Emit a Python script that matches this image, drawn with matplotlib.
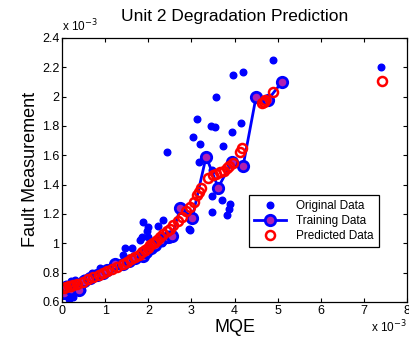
import matplotlib
matplotlib.use('Agg')
import matplotlib.pyplot as plt

plt.rcParams['font.family'] = ['Liberation Sans', 'DejaVu Sans']

# values in units of 1e-3
orig_x = [7.4, 4.9, 4.2, 3.97, 3.57, 3.13, 3.46, 3.03, 3.2, 3.55, 3.74, 3.95, 4.15,
          2.43, 3.18, 3.48, 3.48, 3.7, 3.9, 3.86, 3.82, 3.48, 2.95,
          0.07, 0.15, 0.26, 0.1, 0.2, 0.3, 0.46, 0.5, 0.7, 0.88, 1.04, 1.2, 1.35,
          1.41, 1.46, 1.62, 1.55, 1.81, 1.81, 1.86, 1.88, 1.97, 2.0, 2.0, 2.04,
          2.23, 2.32, 2.34, 2.46, 2.5, 2.97]
orig_y = [2.2, 2.25, 2.17, 2.15, 2.0, 1.85, 1.80, 1.725, 1.68, 1.79, 1.66, 1.76, 1.82,
          1.62, 1.555, 1.50, 1.32, 1.295, 1.27, 1.235, 1.19, 1.21, 1.10,
          0.65, 0.62, 0.635, 0.72, 0.74, 0.75, 0.68, 0.76, 0.80, 0.83, 0.83, 0.85, 0.86,
          0.92, 0.97, 0.97, 0.90, 0.92, 1.02, 1.04, 1.145, 1.08, 1.11, 1.04, 1.00,
          1.12, 1.0, 1.16, 1.06, 1.03, 1.09]

train_x = [0.05, 0.1, 0.2, 0.3, 0.4, 0.5, 0.65, 0.8, 0.95, 1.05, 1.23, 1.4, 1.55,
           1.7, 1.88, 1.95, 2.05, 2.15, 2.3, 2.45, 2.55, 2.74, 3.02, 3.34, 3.62,
           3.94, 4.2, 4.5, 4.78, 5.1]
train_y = [0.66, 0.70, 0.69, 0.72, 0.68, 0.74, 0.76, 0.78, 0.80, 0.82, 0.855, 0.86, 0.88,
           0.90, 0.91, 0.94, 0.97, 0.99, 1.02, 1.04, 1.05, 1.24, 1.175, 1.59, 1.38,
           1.555, 1.53, 2.0, 1.98, 2.1]

pred_x = [0.05, 0.1, 0.15, 0.2, 0.26, 0.35, 0.49, 0.6, 0.72, 0.85, 0.95, 1.05, 1.15,
          1.28, 1.4, 1.5, 1.6, 1.7, 1.78, 1.85, 1.92, 1.98, 2.04, 2.1, 2.15, 2.2,
          2.28, 2.35, 2.43, 2.5, 2.58, 2.68, 2.78, 2.88, 2.97, 3.05, 3.13, 3.18,
          3.22, 3.39, 3.5, 3.58, 3.67, 3.75, 3.82, 3.88, 3.96, 4.13, 4.18, 4.64,
          4.68, 4.71, 4.9, 7.42]
pred_y = [0.695, 0.70, 0.705, 0.71, 0.716, 0.725, 0.737, 0.755, 0.77, 0.785, 0.80, 0.81,
          0.825, 0.84, 0.86, 0.875, 0.89, 0.905, 0.92, 0.94, 0.955, 0.97, 0.99, 1.0,
          1.01, 1.02, 1.045, 1.06, 1.08, 1.10, 1.125, 1.15, 1.18, 1.22, 1.25, 1.28,
          1.33, 1.35, 1.38, 1.445, 1.465, 1.47, 1.485, 1.495, 1.51, 1.525, 1.545,
          1.62, 1.65, 1.955, 1.965, 1.98, 2.03, 2.105]

fig = plt.figure(figsize=(4.09, 3.45), dpi=100)
ax = fig.add_axes([0.152, 0.125, 0.843, 0.765])

ax.plot(orig_x, orig_y, '.', color='blue', markersize=9.5, label='Original Data')
ax.plot(train_x, train_y, '-o', color='blue', linewidth=2, markersize=7.5,
        markerfacecolor='#B020B0', markeredgecolor='blue', markeredgewidth=2,
        label='Training Data')
ax.plot(pred_x, pred_y, 'o', color='red', markerfacecolor='none', markersize=6.5,
        markeredgewidth=1.8, label='Predicted Data')

ax.set_xlim(0, 8)
ax.set_ylim(0.6, 2.4)
ax.set_xticks(range(0, 9))
ax.set_yticks([0.6, 0.8, 1.0, 1.2, 1.4, 1.6, 1.8, 2.0, 2.2, 2.4])
ax.set_yticklabels(['0.6', '0.8', '1', '1.2', '1.4', '1.6', '1.8', '2', '2.2', '2.4'])
ax.tick_params(direction='in', top=True, right=True, labelsize=9, length=3, pad=2)
for s in ax.spines.values():
    s.set_linewidth(0.9)

ax.set_title('Unit 2 Degradation Prediction', fontsize=12.5, pad=12)
ax.set_xlabel('MQE', fontsize=13, labelpad=2)
ax.set_ylabel('Fault Measurement', fontsize=13, labelpad=2)

ax.text(0.0, 1.012, r'x 10$^{-3}$', transform=ax.transAxes, fontsize=8.5,
        ha='left', va='bottom')
ax.text(0.998, -0.065, r'x 10$^{-3}$', transform=ax.transAxes, fontsize=8.5,
        ha='right', va='top')

leg = ax.legend(loc='lower left', bbox_to_anchor=(0.525, 0.185), fontsize=8.5,
                frameon=True, fancybox=False, edgecolor='black', framealpha=1,
                borderpad=0.45, labelspacing=0.25, handlelength=2.7)
leg.get_frame().set_linewidth(0.9)

fig.savefig('out.png', dpi=100)
